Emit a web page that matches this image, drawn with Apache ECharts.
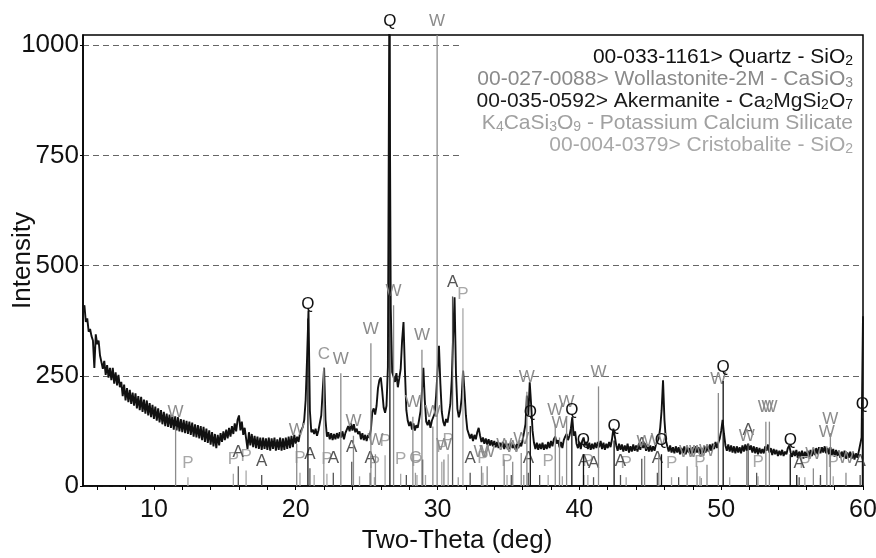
<!DOCTYPE html>
<html lang="en">

<head>
    <meta charset="UTF-8">
    <title>XRD pattern</title>
    <script src="https://cdn.jsdelivr.net/npm/echarts@6/dist/echarts.min.js"></script>
    <style>
        html, body { margin: 0; padding: 0; background: #fff; }
    </style>
</head>

<body>
    <div id="main" style="width:876px;height:558px"></div>
    <script>
        // measured intensity, 2θ = 5.0 .. 60.0 in 0.1° steps (one row per degree)
        var pattern = [
            395, 410, 372, 380, 350, 356, 340, 330, 268, 344,
            322, 330, 296, 300, 266, 284, 252, 274, 246, 268,
            240, 268, 232, 258, 228, 252, 224, 236, 204, 230,
            194, 222, 190, 218, 186, 212, 182, 210, 176, 204,
            172, 202, 168, 196, 164, 194, 160, 188, 156, 184,
            152, 180, 148, 176, 144, 172, 140, 168, 136, 164,
            134, 162, 132, 160, 128, 158, 126, 156, 124, 152,
            122, 150, 120, 148, 118, 146, 116, 144, 112, 140,
            110, 138, 108, 136, 104, 134, 100, 130, 98, 126,
            94, 122, 90, 118, 86, 116, 92, 120, 100, 124,
            104, 128, 108, 132, 112, 136, 118, 142, 124, 150,
            160, 126, 146, 116, 132, 108, 84, 122, 92, 118,
            88, 114, 86, 112, 84, 110, 82, 110, 84, 108,
            82, 110, 80, 108, 84, 110, 80, 106, 82, 110,
            80, 108, 82, 110, 84, 112, 86, 114, 88, 116,
            96, 112, 100, 120, 118, 134, 150, 195, 290, 398,
            170, 122, 128, 118, 130, 114, 126, 124, 160, 215,
            268, 150, 112, 122, 106, 120, 104, 118, 106, 120,
            108, 122, 110, 124, 106, 120, 118, 136, 124, 142,
            126, 140, 122, 130, 118, 124, 106, 120, 104, 116,
            102, 116, 110, 128, 168, 176, 162, 182, 222, 240,
            246, 215, 178, 166, 182, 270, 1100, 405, 258, 248,
            236, 256, 224, 244, 265, 330, 372, 262, 172, 148,
            136, 146, 128, 142, 126, 138, 132, 150, 170, 215,
            268, 195, 146, 138, 150, 132, 148, 146, 165, 205,
            262, 318, 232, 168, 146, 136, 152, 144, 164, 185,
            240, 340, 428, 255, 175, 156, 170, 200, 262, 215,
            160, 128, 124, 108, 118, 102, 116, 106, 122, 132,
            114, 100, 110, 96, 108, 94, 106, 92, 104, 90,
            102, 88, 100, 86, 98, 88, 100, 84, 98, 86,
            96, 84, 98, 86, 94, 82, 96, 86, 98, 90,
            105, 122, 140, 205, 160, 235, 185, 125, 98, 84,
            98, 82, 96, 84, 98, 82, 94, 84, 100, 86,
            102, 90, 106, 112, 96, 104, 88, 100, 86, 104,
            112, 118, 104, 114, 130, 156, 114, 124, 96, 86,
            100, 84, 102, 110, 92, 100, 84, 98, 82, 96,
            84, 98, 86, 100, 88, 102, 84, 98, 82, 96,
            86, 100, 88, 106, 130, 112, 92, 80, 96, 82,
            94, 78, 92, 80, 96, 76, 90, 78, 94, 80,
            92, 78, 96, 82, 100, 86, 98, 80, 94, 78,
            92, 78, 90, 80, 94, 96, 108, 132, 172, 240,
            150, 104, 90, 78, 92, 76, 88, 74, 90, 76,
            88, 72, 86, 74, 90, 72, 88, 76, 86, 72,
            88, 74, 90, 76, 88, 72, 86, 74, 90, 76,
            92, 78, 94, 80, 96, 84, 100, 86, 98, 108,
            125, 150, 118, 92, 80, 94, 78, 92, 76, 90,
            74, 90, 76, 88, 74, 92, 78, 94, 80, 96,
            82, 92, 76, 90, 74, 88, 72, 86, 74, 84,
            74, 90, 80, 94, 76, 86, 70, 84, 72, 82,
            68, 80, 70, 82, 68, 78, 72, 86, 92, 76,
            66, 80, 68, 82, 64, 78, 66, 80, 62, 78,
            64, 80, 66, 82, 68, 84, 70, 86, 72, 88,
            74, 88, 76, 90, 74, 86, 72, 88, 70, 84,
            66, 82, 68, 80, 64, 78, 66, 80, 62, 76,
            64, 78, 62, 76, 60, 74, 64, 78, 80, 110,
            385
        ]

        // reference sticks: [2θ, height, label]
        var quartzSticks = [
            [20.86, 380, 'Q'], [26.64, 1023, 'Q'], [36.54, 136, 'Q'], [39.47, 140, 'Q'],
            [40.29, 72, 'Q'], [42.45, 103, 'Q'], [45.79, 72, 'Q'], [50.14, 238, 'Q'],
            [54.87, 72, 'Q'], [55.33, 25, ''], [59.96, 153, 'Q']
        ]
        var wollastoniteSticks = [
            [11.53, 135, 'W'], [20.07, 95, 'W'], [23.18, 256, 'W'], [24.07, 114, 'W'],
            [25.3, 324, 'W'], [25.62, 72, 'W'], [26.9, 410, 'W'], [28.26, 157, 'W'],
            [28.9, 309, 'W'], [29.67, 135, 'W'], [29.97, 1023, 'W'], [30.45, 60, 'W'],
            [33.1, 45, 'W'], [33.5, 45, 'W'], [34.7, 60, 'W'], [35.3, 55, 'W'],
            [35.9, 75, 'W'], [36.3, 214, 'W'], [38.3, 140, 'W'], [38.6, 110, 'W'],
            [39.1, 158, 'W'], [41.35, 226, 'W'], [44.6, 68, 'W'], [45.6, 72, 'W'],
            [47.6, 45, 'W'], [48.3, 45, 'W'], [49.0, 48, 'W'], [49.8, 211, 'W'],
            [51.8, 80, 'W'], [53.15, 146, 'W'], [53.4, 146, 'W'], [56.5, 40, 'W'],
            [57.45, 90, 'W'], [57.7, 120, 'W'], [58.8, 30, 'W']
        ]
        var akermaniteSticks = [
            [15.95, 45, 'A'], [17.6, 25, 'A'], [21.0, 40, 'A'], [22.65, 30, 'A'],
            [23.95, 55, 'A'], [25.25, 30, 'A'], [27.8, 25, ''], [28.95, 60, ''],
            [31.06, 430, 'A'], [32.3, 30, 'A'], [35.2, 25, ''], [36.4, 30, 'A'],
            [37.2, 25, ''], [40.3, 25, 'A'], [41.0, 20, 'A'], [42.9, 25, 'A'],
            [44.4, 62, 'A'], [45.5, 30, 'A'], [47.0, 20, ''], [51.9, 95, 'A'],
            [52.5, 30, ''], [55.5, 20, 'A'], [57.0, 25, ''], [59.8, 25, 'A']
        ]
        var potassiumSticks = [
            [12.4, 20, 'P'], [15.6, 28, 'P'], [16.5, 35, 'P'], [20.3, 30, 'P'],
            [21.3, 25, ''], [22.2, 28, 'P'], [24.5, 22, ''], [25.55, 20, 'P'],
            [26.3, 70, 'P'], [27.4, 28, 'P'], [28.55, 25, 'P'], [29.15, 25, ''],
            [30.3, 55, 'P'], [30.75, 72, 'P'], [31.79, 403, 'P'], [33.2, 30, 'P'],
            [34.9, 25, 'P'], [37.8, 25, 'P'], [38.8, 22, ''], [40.6, 25, 'P'],
            [43.3, 20, 'P'], [46.5, 20, 'P'], [48.5, 22, 'P'], [50.6, 20, ''],
            [52.6, 22, 'P'], [55.9, 20, 'P'], [57.9, 22, 'P']
        ]
        var cristobaliteSticks = [
            [21.98, 268, 'C'], [28.44, 30, 'C'], [31.46, 20, ''], [36.08, 25, ''],
            [48.6, 18, ''], [57.0, 18, '']
        ]

        var xLabels = [10, 20, 30, 40, 50, 60]
        var xTicks = [6, 8, 10, 12, 14, 16, 18, 20, 22, 24, 26, 28, 30, 32, 34, 36, 38, 40,
            42, 44, 46, 48, 50, 52, 54, 56, 58, 60]
        var yLabels = [0, 250, 500, 750, 1000]
        var yMax = 1023

        var legendLines = [
            ['00-033-1161> Quartz - SiO{s|2}', '#111'],
            ['00-027-0088> Wollastonite-2M - CaSiO{s|3}', '#8a8a8a'],
            ['00-035-0592> Akermanite - Ca{s|2}MgSi{s|2}O{s|7}', '#1a1a1a'],
            ['K{s|4}CaSi{s|3}O{s|9} - Potassium Calcium Silicate', '#a0a0a0'],
            ['00-004-0379> Cristobalite - SiO{s|2}', '#a8a8a8']
        ]

        var font = '"Liberation Sans", Arial, sans-serif'
        var myChart = echarts.init(document.getElementById('main'))

        var lineData = pattern.map(function (v, i) {
            return [(50 + i) / 10, v]
        })

        function plain(v) {
            return String(v)
        }

        function stickSeries(sticks, color, z) {
            return {
                type: 'custom',
                z: z,
                silent: true,
                animation: false,
                data: sticks.map(function (s) { return [s[0], s[1]] }),
                renderItem: function (params, api) {
                    var item = sticks[params.dataIndex]
                    var base = api.coord([item[0], 0])
                    var top = api.coord([item[0], Math.min(item[1], yMax)])
                    var children = [{
                        type: 'line',
                        shape: { x1: base[0], y1: base[1], x2: top[0], y2: top[1] },
                        style: { stroke: color, lineWidth: 1.3 }
                    }]
                    if (item[2]) {
                        children.push({
                            type: 'text',
                            x: top[0],
                            y: top[1] - 14,
                            style: {
                                text: item[2], fill: color, fontSize: 17, fontFamily: font,
                                align: 'center', verticalAlign: 'middle'
                            }
                        })
                    }
                    return { type: 'group', children: children }
                }
            }
        }

        var graphics = [{
            type: 'rect',
            z: 5,
            shape: { x: 462, y: 37, width: 399, height: 131 },
            style: { fill: '#fff' }
        }]
        legendLines.forEach(function (l, i) {
            graphics.push({
                type: 'text',
                z: 6,
                x: 853,
                y: 57 + i * 22,
                style: {
                    text: l[0], fill: l[1], fontSize: 21, fontFamily: font, lineHeight: 22,
                    align: 'right', verticalAlign: 'middle',
                    rich: {
                        s: { fontSize: 14, fontFamily: font, fill: l[1], lineHeight: 8, verticalAlign: 'bottom' }
                    }
                }
            })
        })

        var option = {
            animation: false,
            backgroundColor: '#fff',
            grid: {
                left: 83, right: 13, top: 35, bottom: 72,
                containLabel: false,
                outerBoundsMode: 'none',
                show: true, borderColor: '#000', borderWidth: 1.5
            },
            xAxis: {
                type: 'value',
                min: 5,
                max: 60,
                name: 'Two-Theta (deg)',
                nameLocation: 'middle',
                nameGap: 42,
                nameMoveOverlap: false,
                nameTextStyle: { fontSize: 26, color: '#111', fontFamily: font, padding: [0, 32, 0, 0] },
                axisLine: { show: true, lineStyle: { color: '#000', width: 1.5 } },
                axisTick: { show: true, customValues: xTicks, length: 4, lineStyle: { color: '#000' } },
                axisLabel: { customValues: xLabels, formatter: plain, fontSize: 25, color: '#111', fontFamily: font, margin: 12 },
                splitLine: { show: false }
            },
            yAxis: {
                type: 'value',
                min: 0,
                max: yMax,
                interval: 250,
                name: 'Intensity',
                nameLocation: 'middle',
                nameGap: 47,
                nameMoveOverlap: false,
                nameTextStyle: { fontSize: 26, color: '#111', fontFamily: font },
                axisLine: { show: true, lineStyle: { color: '#000', width: 1.5 } },
                axisTick: { show: true, customValues: yLabels, length: 3, lineStyle: { color: '#000' } },
                axisLabel: { customValues: yLabels, formatter: plain, fontSize: 26, color: '#111', fontFamily: font, margin: 4 },
                splitLine: { show: true, lineStyle: { color: '#666', type: [6, 4], width: 1 } }
            },
            graphic: graphics,
            series: [{
                type: 'line',
                data: lineData,
                showSymbol: false,
                clip: true,
                z: 2,
                lineStyle: { color: '#111', width: 1.9 }
            },
            stickSeries(potassiumSticks, '#a8a8a8', 3),
            stickSeries(cristobaliteSticks, '#9a9a9a', 4),
            stickSeries(akermaniteSticks, '#555', 5),
            stickSeries(wollastoniteSticks, '#8c8c8c', 6),
            stickSeries(quartzSticks, '#111', 7)
            ]
        }
        myChart.setOption(option)
    </script>
</body>

</html>
